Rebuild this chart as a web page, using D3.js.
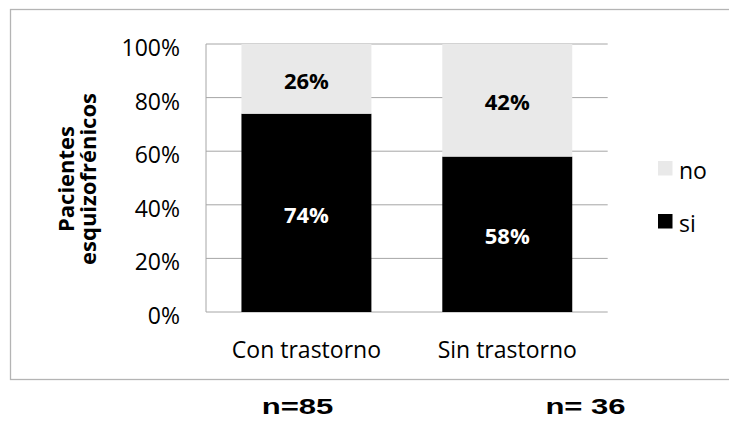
<!DOCTYPE html>
<html>
<head>
<meta charset="utf-8">
<script src="https://cdn.jsdelivr.net/npm/d3@7"></script>
<style>
  html, body { margin: 0; padding: 0; background: #fff; }
  svg { display: block; }
  text { font-family: "Open Sans", sans-serif; }
  text.sample { font-family: "Liberation Sans", Arial, sans-serif; }
</style>
</head>
<body>
<script>
// Share of schizophrenic patients per group
const categories = ["Con trastorno", "Sin trastorno"];
const siValues = [74, 58];
const noValues = [26, 42];
const seriesNames = ["no", "si"];
const yTicks = [0, 20, 40, 60, 80, 100];
const sampleLabels = ["n=85", "n= 36"];

const W = 729, H = 422;
const plot = { left: 206, right: 607.7, top: 44, bottom: 312 };

const svg = d3.select("body").append("svg")
  .attr("width", W).attr("height", H);

// Outer chart frame
svg.append("rect")
  .attr("x", 10.5).attr("y", 9.5)
  .attr("width", 740).attr("height", 370)
  .attr("fill", "none").attr("stroke", "#b4b4b4").attr("stroke-width", 1.3);

const x = d3.scaleBand()
  .domain(categories)
  .range([plot.left, plot.right])
  .paddingInner(0.353)
  .paddingOuter(0.1765);

const y = d3.scaleLinear().domain([0, 100]).range([plot.bottom, plot.top]);

const colors = { si: "#000000", no: "#e9e9e9" };

// Gridlines
svg.append("g").selectAll("line")
  .data(yTicks)
  .join("line")
  .attr("x1", plot.left).attr("x2", plot.right)
  .attr("y1", d => y(d)).attr("y2", d => y(d))
  .attr("stroke", "#a6a6a6").attr("stroke-width", 1);

// Vertical axis line
svg.append("line")
  .attr("x1", plot.left).attr("x2", plot.left)
  .attr("y1", plot.top).attr("y2", plot.bottom)
  .attr("stroke", "#a6a6a6").attr("stroke-width", 1);

// Y tick labels
svg.append("g").selectAll("text")
  .data(yTicks)
  .join("text")
  .attr("x", 180)
  .attr("y", d => y(d) + 12)
  .attr("text-anchor", "end")
  .attr("font-size", 23)
  .attr("fill", "#000")
  .text(d => d + "%");

// Stacked data
const rows = categories.map((c, i) => ({ cat: c, si: siValues[i], no: noValues[i] }));
const stack = d3.stack().keys(["si", "no"])(rows);

const layers = svg.append("g").selectAll("g")
  .data(stack)
  .join("g")
  .attr("fill", d => colors[d.key]);

layers.selectAll("rect")
  .data(d => d)
  .join("rect")
  .attr("x", d => x(d.data.cat))
  .attr("width", x.bandwidth())
  .attr("y", d => y(d[1]))
  .attr("height", d => y(d[0]) - y(d[1]));

// Value labels inside segments
stack.forEach(layer => {
  svg.append("g").selectAll("text")
    .data(layer)
    .join("text")
    .attr("x", d => x(d.data.cat) + x.bandwidth() / 2)
    .attr("y", d => (y(d[0]) + y(d[1])) / 2 + 10)
    .attr("text-anchor", "middle")
    .attr("font-size", 22)
    .attr("font-weight", "bold")
    .attr("fill", layer.key === "si" ? "#fff" : "#000")
    .text(d => (d[1] - d[0]) + "%");
});

// Category labels
svg.append("g").selectAll("text")
  .data(categories)
  .join("text")
  .attr("x", d => x(d) + x.bandwidth() / 2)
  .attr("y", 358)
  .attr("text-anchor", "middle")
  .attr("font-size", 23)
  .attr("fill", "#000")
  .text(d => d);

// Y axis title (two lines)
const yTitle = svg.append("text")
  .attr("transform", "translate(0,179) rotate(-90)")
  .attr("text-anchor", "middle")
  .attr("font-size", 22)
  .attr("font-weight", "bold")
  .attr("fill", "#000");
yTitle.append("tspan").attr("x", 0).attr("y", 74).text("Pacientes");
yTitle.append("tspan").attr("x", 0).attr("y", 96).text("esquizofrénicos");

// Legend
const legendItems = [
  { name: seriesNames[0], top: 161, base: 179 },
  { name: seriesNames[1], top: 214, base: 232 }
];
const legend = svg.append("g");
legend.selectAll("rect")
  .data(legendItems)
  .join("rect")
  .attr("x", 658).attr("y", d => d.top)
  .attr("width", 14.5).attr("height", 14.5)
  .attr("fill", d => colors[d.name]);
legend.selectAll("text")
  .data(legendItems)
  .join("text")
  .attr("x", 679).attr("y", d => d.base)
  .attr("font-size", 23)
  .attr("fill", "#000")
  .text(d => d.name);

// Sample sizes under the chart
const sampleX = [297.5, 585.5];
svg.append("g").selectAll("text")
  .data(sampleLabels)
  .join("text")
  .attr("class", "sample")
  .attr("transform", (d, i) => `translate(${sampleX[i]},414) scale(1.38,1)`)
  .attr("text-anchor", "middle")
  .attr("font-size", 22.5)
  .attr("font-weight", "bold")
  .attr("fill", "#000")
  .text(d => d);
</script>
</body>
</html>
